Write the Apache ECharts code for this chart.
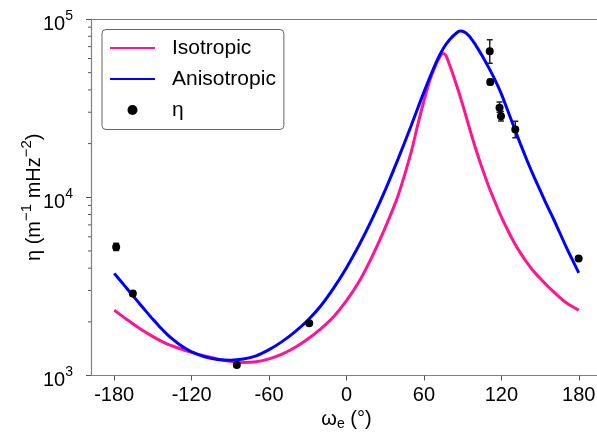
<!DOCTYPE html>
<html>
<head>
<meta charset="utf-8">
<script src="https://cdn.jsdelivr.net/npm/echarts@6/dist/echarts.min.js"></script>
<style>html,body{margin:0;padding:0;background:#fff;}#c{width:597px;height:435px;}</style>
</head>
<body>
<div id="c"></div>
<script>
// Curve angles (degrees)
var isoAngles = [-180,-170,-160,-150,-140,-130,-120,-110,-100,-90,-80,-70,-60,-50,-40,-30,-20,-10,0,10,20,30,40,50,55,60,65,70,73,75,77,80,85,90,95,100,105,110,115,120,125,130,135,140,145,150,155,160,165,170,175,180];
var isoValues = [2328,2056,1828,1652,1514,1422,1349,1288,1239,1202,1183,1194,1239,1318,1436,1603,1828,2138,2630,3388,4677,6761,10233,17783,25119,34674,46238,56885,62373,63973,62373,54954,43152,33113,24831,18836,14622,11614,9441,7762,6531,5559,4842,4285,3846,3508,3221,2972,2754,2570,2438,2328];
var anisoAngles = [-180,-175,-170,-165,-160,-155,-150,-145,-140,-135,-130,-125,-120,-110,-100,-90,-80,-70,-60,-50,-40,-30,-20,-10,0,10,20,30,40,50,60,70,75,80,85,88,90,95,100,105,110,115,120,125,130,135,140,145,150,155,160,165,170,175,180];
var anisoValues = [3741,3388,3069,2773,2512,2275,2065,1884,1730,1603,1503,1422,1358,1274,1230,1219,1236,1288,1396,1549,1758,2042,2455,3090,4027,5433,7586,10965,16406,25119,38905,58210,68391,76736,83176,85507,85310,80353,71614,62373,53703,45709,38019,30549,24547,19724,16032,13183,10965,9120,7674,6383,5309,4467,3767];
// Measured points
var etaAngles = [-178.5,-165.6,-85,-28.9,111,111.4,118.6,119.7,130.8,179.9];
var etaValues = [5267,2887,1145,1961,66000,44300,31800,28500,24000,4537];
var etaLow  = [5020,2800,1120,1920,56500,42800,30000,26800,21600,4440];
var etaHigh = [5520,2970,1170,2000,76500,45800,34200,30300,26700,4640];
// Axis ticks
var xTicks = [-180,-120,-60,0,60,120,180];
var yMinorTicks = [2000,3000,4000,5000,6000,7000,8000,9000,20000,30000,40000,50000,60000,70000,80000,90000];

var FONT = 'Liberation Sans, Arial, sans-serif';
function zip(a,b){var r=[];for(var i=0;i<a.length;i++)r.push([a[i],b[i]]);return r;}
var errData=[];for(var i=0;i<etaAngles.length;i++)errData.push([etaAngles[i],etaLow[i],etaHigh[i]]);
var hideSym={color:'rgba(0,0,0,0)',borderWidth:0,opacity:0};

var chart = echarts.init(document.getElementById('c'), null, {renderer:'canvas'});
chart.setOption({
  animation:false,
  backgroundColor:'#fff',
  grid:{left:91, top:19, width:511, height:356.5, containLabel:false, outerBoundsMode:'none'},
  legend:{
    left:102, top:29.5, orient:'vertical',
    data:[{name:'Isotropic',itemStyle:hideSym},{name:'Anisotropic',itemStyle:hideSym},{name:'η', icon:'circle'}],
    itemWidth:45, itemHeight:10, itemGap:10,
    padding:[8,8,9,7],
    borderColor:'#666', borderWidth:1, borderRadius:4, backgroundColor:'#fff',
    textStyle:{fontFamily:FONT, fontSize:21, color:'#000', padding:[0,0,0,12]}
  },
  xAxis:[{
    type:'value', min:-198, max:198,
    name:'{a|ω}{sub|e}{a| (°)}', nameLocation:'middle', nameGap:31.5, nameMoveOverlap:false,
    nameTextStyle:{rich:{a:{fontFamily:FONT,fontSize:20,lineHeight:24,color:'#000'},sub:{fontFamily:FONT,fontSize:14,lineHeight:10,color:'#000',verticalAlign:'bottom'}}},
    axisLine:{show:true,onZero:false,lineStyle:{color:'#808080',width:1.2}},
    axisTick:{show:true,length:5,inside:false,customValues:xTicks,lineStyle:{color:'#555'}},
    axisLabel:{customValues:xTicks,fontFamily:FONT,fontSize:20,color:'#000',margin:10},
    splitLine:{show:false}
  },{
    type:'value', min:-198, max:198, position:'top',
    axisLine:{show:true,onZero:false,lineStyle:{color:'#808080',width:1.2}},
    axisTick:{show:false},axisLabel:{show:false},splitLine:{show:false}
  }],
  yAxis:{
    type:'log', logBase:10, min:1000, max:100000, interval:1,
    name:'{a|η (m}{s|−1}{a| mHz}{s|−2}{a|)}', nameLocation:'middle', nameGap:42, nameRotate:90, nameMoveOverlap:false,
    nameTextStyle:{rich:{a:{fontFamily:FONT,fontSize:20,lineHeight:30,color:'#000'},s:{fontFamily:FONT,fontSize:15,lineHeight:10,color:'#000',verticalAlign:'top'}}},
    axisLine:{show:true,onZero:false,lineStyle:{color:'#808080',width:1.2}},
    axisTick:{show:true,length:5,lineStyle:{color:'#555'}},
    axisLabel:{fontFamily:FONT,color:'#000',margin:18,padding:[10,0,0,0],
      formatter:function(v){return '{b|10}{s|'+Math.round(Math.log10(v))+'}';},
      rich:{b:{fontFamily:FONT,fontSize:20,lineHeight:30,color:'#000'},s:{fontFamily:FONT,fontSize:14,lineHeight:10,color:'#000',verticalAlign:'top'}}},
    splitLine:{show:false}
  },
  series:[
    {name:'Isotropic',type:'line',data:zip(isoAngles,isoValues),smooth:0.3,showSymbol:false,symbol:'none',
      lineStyle:{color:'#ff1493',width:3},itemStyle:{color:'#ff1493'},z:2},
    {name:'Anisotropic',type:'line',data:zip(anisoAngles,anisoValues),smooth:0.3,showSymbol:false,symbol:'none',
      lineStyle:{color:'#0000ff',width:3},itemStyle:{color:'#0000ff'},z:3},
    {name:'errorbars',type:'custom',data:errData,z:4,clip:true,
      renderItem:function(params,api){
        var x=api.value(0),lo=api.value(1),hi=api.value(2);
        var p1=api.coord([x,lo]),p2=api.coord([x,hi]);var w=3;
        var st={stroke:'#222',lineWidth:1.5};
        return {type:'group',children:[
          {type:'line',shape:{x1:p1[0],y1:p1[1],x2:p2[0],y2:p2[1]},style:st},
          {type:'line',shape:{x1:p1[0]-w,y1:p1[1],x2:p1[0]+w,y2:p1[1]},style:st},
          {type:'line',shape:{x1:p2[0]-w,y1:p2[1],x2:p2[0]+w,y2:p2[1]},style:st}
        ]};
      }},
    {name:'η',type:'scatter',data:zip(etaAngles,etaValues),symbol:'circle',symbolSize:8,
      itemStyle:{color:'#000',opacity:1},z:5},
    {name:'minorTicks',type:'custom',data:yMinorTicks.map(function(v){return [0,v];}),clip:false,z:6,silent:true,
      renderItem:function(params,api){
        var y=api.coord([0,api.value(1)])[1];var x=params.coordSys.x;
        return {type:'line',shape:{x1:x-3,y1:y,x2:x,y2:y},style:{stroke:'#555',lineWidth:1}};
      }}
  ]
});
</script>
</body>
</html>
